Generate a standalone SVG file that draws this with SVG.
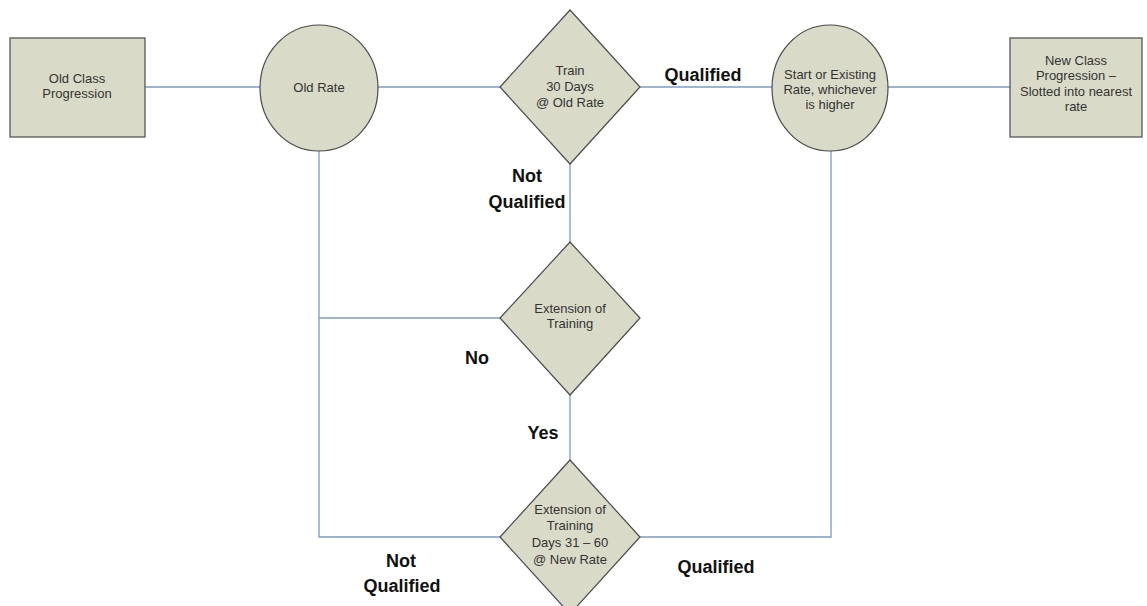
<svg xmlns="http://www.w3.org/2000/svg" width="1147" height="606" viewBox="0 0 1147 606">
<style>
.shape{fill:#d9dbc8;stroke:#4a4a4a;stroke-width:1.2}
.t{font-family:"Liberation Sans",Arial,sans-serif;font-size:13px;fill:#333;text-anchor:middle}
.lbl{font-family:"Liberation Sans",Arial,sans-serif;font-size:18px;font-weight:bold;fill:#111;text-anchor:middle}
.c{fill:none;stroke:#7b9bc8;stroke-width:1.3}
</style>
<rect width="1147" height="606" fill="#fff"/>
<g id="connectors">
<line class="c" x1="145" y1="87" x2="260" y2="87"/>
<line class="c" x1="378" y1="87" x2="500" y2="87"/>
<line class="c" x1="640" y1="87" x2="772" y2="87"/>
<line class="c" x1="888" y1="87" x2="1010" y2="87"/>
<polyline class="c" points="319,151 319,537 500,537"/>
<line class="c" x1="319" y1="318" x2="500" y2="318"/>
<line class="c" x1="570" y1="164" x2="570" y2="242"/>
<line class="c" x1="570" y1="395" x2="570" y2="460"/>
<polyline class="c" points="640,537 831,537 831,151"/>
</g>
<g id="old-class">
<rect class="shape" x="10" y="38" width="135" height="99"/>
<text class="t" x="77" y="83">Old Class</text>
<text class="t" x="77" y="98">Progression</text>
</g>
<g id="old-rate">
<ellipse class="shape" cx="319" cy="88" rx="59" ry="63"/>
<text class="t" x="319" y="92">Old Rate</text>
</g>
<g id="train">
<polygon class="shape" points="570,10 640,87 570,164 500,87"/>
<text class="t" x="570" y="75">Train</text>
<text class="t" x="570" y="91">30 Days</text>
<text class="t" x="570" y="107">@ Old Rate</text>
</g>
<g id="start-rate">
<ellipse class="shape" cx="830" cy="88" rx="58" ry="63"/>
<text class="t" x="830" y="79">Start or Existing</text>
<text class="t" x="830" y="94">Rate, whichever</text>
<text class="t" x="830" y="109">is higher</text>
</g>
<g id="new-class">
<rect class="shape" x="1010" y="38" width="132" height="99"/>
<text class="t" x="1076" y="65">New Class</text>
<text class="t" x="1076" y="80">Progression –</text>
<text class="t" x="1076" y="96">Slotted into nearest</text>
<text class="t" x="1076" y="111">rate</text>
</g>
<g id="extension">
<polygon class="shape" points="570,242 640,318 570,395 500,318"/>
<text class="t" x="570" y="313">Extension of</text>
<text class="t" x="570" y="328">Training</text>
</g>
<g id="extension-new">
<polygon class="shape" points="570,460 640,537 570,614 500,537"/>
<text class="t" x="570" y="514">Extension of</text>
<text class="t" x="570" y="530">Training</text>
<text class="t" x="570" y="547">Days 31 – 60</text>
<text class="t" x="570" y="564">@ New Rate</text>
</g>
<g id="labels">
<text class="lbl" x="703" y="81">Qualified</text>
<text class="lbl" x="527" y="182">Not</text>
<text class="lbl" x="527" y="208">Qualified</text>
<text class="lbl" x="477" y="364">No</text>
<text class="lbl" x="543" y="439">Yes</text>
<text class="lbl" x="401" y="567">Not</text>
<text class="lbl" x="402" y="592">Qualified</text>
<text class="lbl" x="716" y="573">Qualified</text>
</g>
</svg>
